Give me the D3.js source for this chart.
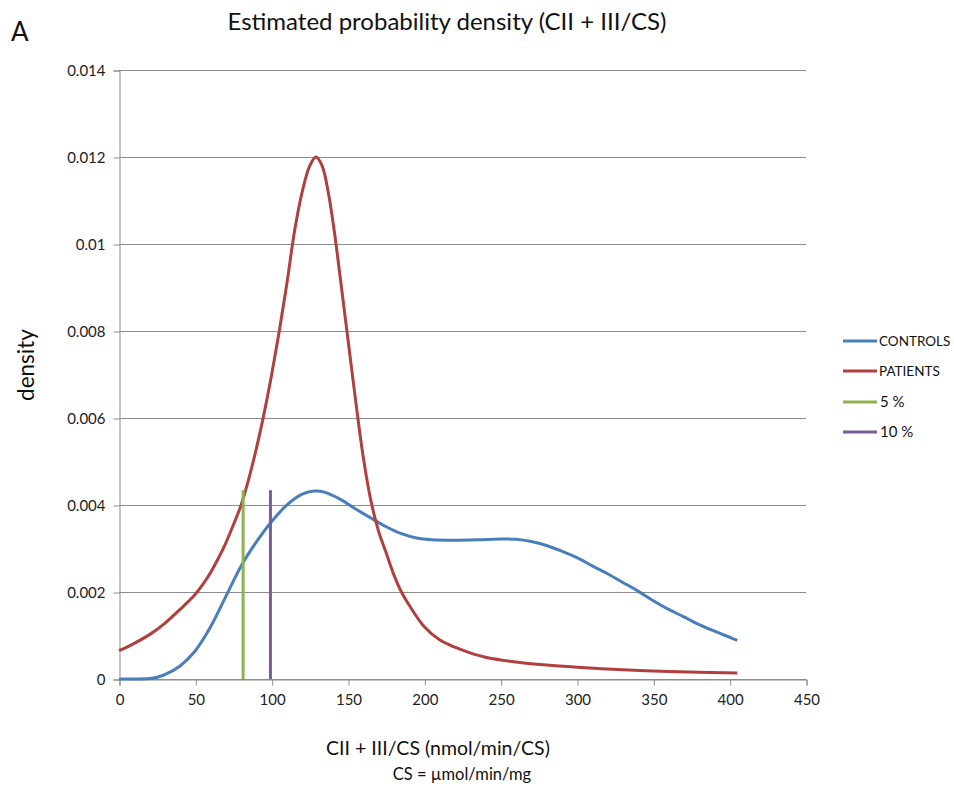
<!DOCTYPE html>
<html>
<head>
<meta charset="utf-8">
<script src="https://cdn.jsdelivr.net/npm/d3@7"></script>
<style>
  html, body { margin: 0; padding: 0; background: #fff; }
  svg { display: block; font-family: Lato, "Open Sans", sans-serif; }
</style>
</head>
<body>
<svg id="chart" width="954" height="787"></svg>
<script>
// ---- data ----
const controlsX = [0, 10, 20, 25, 30, 40, 50, 60, 70, 80, 90, 100, 110, 120, 128, 135, 145, 155, 165, 175, 185, 195, 205, 220, 235, 250, 260, 270, 280, 290, 300, 310, 320, 330, 340, 350, 360, 370, 380, 390, 400, 405];
const controlsY = [0, 0, 0.00001, 0.00004, 0.0001, 0.0003, 0.00065, 0.0012, 0.0019, 0.0026, 0.00315, 0.00362, 0.004, 0.00425, 0.00432, 0.00429, 0.00413, 0.00391, 0.0037, 0.0035, 0.00334, 0.00324, 0.0032, 0.00319, 0.0032, 0.00322, 0.00321, 0.00316, 0.00307, 0.00294, 0.00279, 0.0026, 0.00242, 0.00222, 0.00202, 0.0018, 0.0016, 0.00143, 0.00125, 0.0011, 0.00096, 0.00089];
const patientsX = [0, 10, 20, 30, 40, 50, 55, 60, 65, 70, 75, 80, 85, 90, 95, 100, 105, 110, 115, 120, 125, 129, 133, 137, 141, 145, 150, 155, 160, 165, 170, 175, 180, 185, 190, 200, 210, 220, 230, 240, 260, 280, 300, 330, 360, 405];
const patientsY = [0.00065, 0.00082, 0.00102, 0.00128, 0.0016, 0.00195, 0.00218, 0.00245, 0.00277, 0.00313, 0.00355, 0.004, 0.0046, 0.0053, 0.0061, 0.007, 0.008, 0.0091, 0.0103, 0.0112, 0.0118, 0.012, 0.0118, 0.0112, 0.0103, 0.0092, 0.0078, 0.0064, 0.0051, 0.0041, 0.0034, 0.0029, 0.0024, 0.002, 0.0017, 0.0012, 0.0009, 0.00073, 0.0006, 0.0005, 0.00039, 0.00032, 0.00027, 0.00021, 0.00017, 0.00014];
const cut5 = { x: 81.3, top: 0.00434 };
const cut10 = { x: 99.2, top: 0.00434 };
const xTicks = [0, 50, 100, 150, 200, 250, 300, 350, 400, 450];
const yTicks = [0, 0.002, 0.004, 0.006, 0.008, 0.01, 0.012, 0.014];
const yTickLabels = ["0", "0.002", "0.004", "0.006", "0.008", "0.01", "0.012", "0.014"];
const legendLabels = ["CONTROLS", "PATIENTS", "5 %", "10 %"];
const colors = ["#4A7EBB", "#B0403D", "#8DB250", "#7A5C9E"];

// ---- layout ----
const svg = d3.select("#chart");
const x = d3.scaleLinear().domain([0, 450]).range([119, 806]);
const y = d3.scaleLinear().domain([0, 0.014]).range([679, 70]);
const gridColor = "#8c8c8c";

// gridlines
svg.append("g").selectAll("line").data(yTicks).join("line")
  .attr("x1", x(0)).attr("x2", x(450))
  .attr("y1", d => Math.round(y(d)) + 0.5).attr("y2", d => Math.round(y(d)) + 0.5)
  .attr("stroke", gridColor).attr("stroke-width", 1);

// y axis
const yAxis = d3.axisLeft(y).tickValues(yTicks).tickSize(6).tickPadding(8)
  .tickFormat((d, i) => yTickLabels[i]);
const gy = svg.append("g").attr("transform", `translate(${x(0) + 0.5},0.5)`).call(yAxis);
gy.select(".domain").attr("stroke", gridColor);
gy.selectAll(".tick line").attr("stroke", gridColor);
gy.selectAll(".tick text").attr("font-size", 15).attr("fill", "#222").attr("font-family", "Lato, sans-serif");

// x axis
const xAxis = d3.axisBottom(x).tickValues(xTicks).tickSize(6).tickPadding(9).tickFormat(d3.format("d"));
const gx = svg.append("g").attr("transform", `translate(0.5,${y(0) + 0.5})`).call(xAxis);
gx.select(".domain").attr("stroke", gridColor);
gx.selectAll(".tick line").attr("stroke", gridColor);
gx.selectAll(".tick text").attr("font-size", 15).attr("fill", "#222").attr("font-family", "Lato, sans-serif");

// series
const line = d3.line().x(d => x(d[0])).y(d => y(d[1])).curve(d3.curveCatmullRom.alpha(0.5));
const controls = controlsX.map((v, i) => [v, controlsY[i]]);
const patients = patientsX.map((v, i) => [v, patientsY[i]]);

svg.append("path").datum(controls).attr("d", line)
  .attr("fill", "none").attr("stroke", colors[0]).attr("stroke-width", 3).attr("stroke-linejoin", "round");
svg.append("path").datum(patients).attr("d", line)
  .attr("fill", "none").attr("stroke", colors[1]).attr("stroke-width", 3).attr("stroke-linejoin", "round");

[cut5, cut10].forEach((c, i) => {
  svg.append("line")
    .attr("x1", x(c.x)).attr("x2", x(c.x))
    .attr("y1", y(0)).attr("y2", y(c.top))
    .attr("stroke", colors[2 + i]).attr("stroke-width", 3);
});

// legend
const legendY = [341, 371, 402, 432];
const lg = svg.append("g");
legendLabels.forEach((lab, i) => {
  lg.append("line").attr("x1", 843).attr("x2", 877)
    .attr("y1", legendY[i]).attr("y2", legendY[i])
    .attr("stroke", colors[i]).attr("stroke-width", 3);
  lg.append("text").attr("x", i < 2 ? 879 : 880).attr("y", legendY[i] + 5)
    .attr("font-size", i < 2 ? 13.5 : 15).attr("fill", "#111").text(lab);
});

// titles
svg.append("text").attr("x", 447).attr("y", 30).attr("text-anchor", "middle")
  .attr("font-size", 24).attr("fill", "#111").text("Estimated probability density (CII + III/CS)");
svg.append("text").attr("x", 11).attr("y", 41)
  .attr("font-size", 26).attr("fill", "#111").text("A");
svg.append("text").attr("transform", "translate(34,365) rotate(-90)").attr("text-anchor", "middle")
  .attr("font-size", 22.5).attr("fill", "#111").text("density");
svg.append("text").attr("x", 438).attr("y", 755).attr("text-anchor", "middle")
  .attr("font-size", 19.5).attr("fill", "#111").text("CII + III/CS (nmol/min/CS)");
svg.append("text").attr("x", 462).attr("y", 780).attr("text-anchor", "middle")
  .attr("font-size", 16.5).attr("fill", "#111").text("CS = µmol/min/mg");
</script>
</body>
</html>
